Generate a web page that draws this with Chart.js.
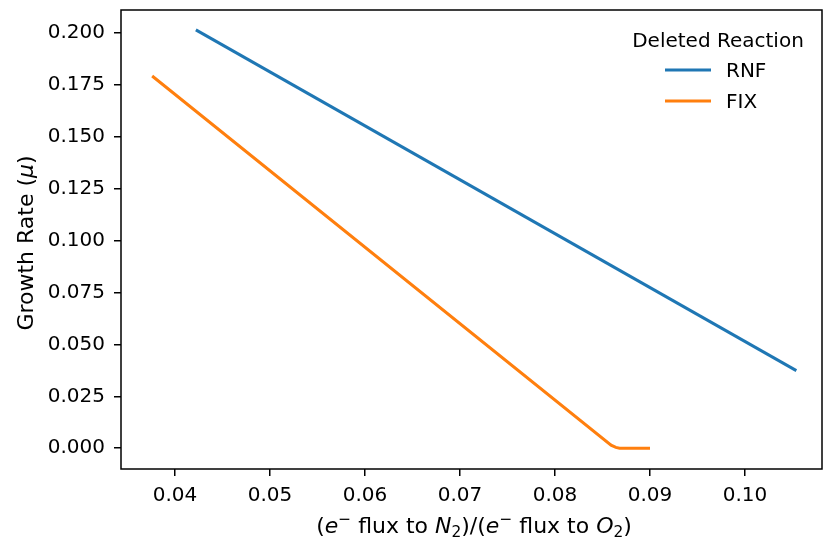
<!DOCTYPE html>
<html>
<head>
<meta charset="utf-8">
<script src="https://cdn.jsdelivr.net/npm/chart.js@4.4.0/dist/chart.umd.min.js"></script>
<style>
  body { margin: 0; background: #fff; }
  #chart { display: block; }
</style>
</head>
<body>
<canvas id="chart" width="824" height="538"></canvas>
<script>
// values
const xTicks = [0.04, 0.05, 0.06, 0.07, 0.08, 0.09, 0.10];
const yTicks = [0, 0.025, 0.05, 0.075, 0.1, 0.125, 0.15, 0.175, 0.2];

const rnfX = [0.0422, 0.1054];
const rnfY = [0.2015, 0.0374];

const fixX = [0.0376, 0.0859, 0.0864, 0.0868, 0.0900];
const fixY = [0.1793, 0.0015, 0.0004, 0.0000, 0.0000];

const seriesNames = ['RNF', 'FIX'];
const legendTitle = 'Deleted Reaction';

const FONT = '"DejaVu Sans"';
const BLUE = '#1f77b4';
const ORANGE = '#ff7f0e';

function toPoints(xs, ys) {
    return xs.map((x, i) => ({ x: x, y: ys[i] }));
}

// draws a label made of pieces (italic / sub / sup) centred on cx
function drawRich(ctx, parts, cx, baseline, size) {
    const fontFor = p => {
        const s = (p.sub || p.sup) ? size * 0.7 : size;
        return (p.italic ? 'italic ' : '') + s + 'px ' + FONT;
    };
    let total = 0;
    parts.forEach(p => { ctx.font = fontFor(p); total += ctx.measureText(p.t).width; });
    let x = cx - total / 2;
    ctx.textAlign = 'left';
    ctx.textBaseline = 'alphabetic';
    parts.forEach(p => {
        ctx.font = fontFor(p);
        let y = baseline;
        if (p.sup) y -= size * 0.42;
        if (p.sub) y += size * 0.2;
        ctx.fillText(p.t, x, y);
        x += ctx.measureText(p.t).width;
    });
}

const xLabel = [
    { t: '(' }, { t: 'e', italic: true }, { t: '\u2212', sup: true }, { t: ' flux to ' },
    { t: 'N', italic: true }, { t: '2', sub: true }, { t: ')/(' },
    { t: 'e', italic: true }, { t: '\u2212', sup: true }, { t: ' flux to ' },
    { t: 'O', italic: true }, { t: '2', sub: true }, { t: ')' }
];
const yLabel = [
    { t: 'Growth Rate (' }, { t: '\u03bc', italic: true }, { t: ')' }
];

const decorations = {
    id: 'decorations',
    afterDraw(chart) {
        const ctx = chart.ctx;
        const a = chart.chartArea;
        ctx.save();
        // spines
        ctx.strokeStyle = '#000';
        ctx.lineWidth = 1.5;
        ctx.strokeRect(a.left, a.top, a.right - a.left, a.bottom - a.top);

        ctx.fillStyle = '#000';
        drawRich(ctx, xLabel, 474, 533, 22);

        ctx.save();
        ctx.translate(33, 243);
        ctx.rotate(-Math.PI / 2);
        drawRich(ctx, yLabel, 0, 0, 22);
        ctx.restore();

        // legend
        ctx.font = '20px ' + FONT;
        ctx.textAlign = 'center';
        ctx.textBaseline = 'alphabetic';
        ctx.fillStyle = '#000';
        ctx.fillText(legendTitle, 718, 47);
        const colors = [BLUE, ORANGE];
        seriesNames.forEach((name, i) => {
            const y = 70 + i * 31;
            ctx.strokeStyle = colors[i];
            ctx.lineWidth = 3;
            ctx.beginPath();
            ctx.moveTo(665, y);
            ctx.lineTo(711, y);
            ctx.stroke();
            ctx.textAlign = 'left';
            ctx.fillText(name, 726, y + 7);
        });
        ctx.restore();
    }
};

new Chart(document.getElementById('chart'), {
    type: 'line',
    data: {
        datasets: [
            { label: seriesNames[0], data: toPoints(rnfX, rnfY), borderColor: BLUE, borderWidth: 3, pointRadius: 0, fill: false },
            { label: seriesNames[1], data: toPoints(fixX, fixY), borderColor: ORANGE, borderWidth: 3, pointRadius: 0, fill: false }
        ]
    },
    options: {
        responsive: false,
        animation: false,
        layout: { padding: { top: 10, right: 2, left: 0, bottom: 0 } },
        plugins: { legend: { display: false }, tooltip: { enabled: false } },
        scales: {
            x: {
                type: 'linear',
                min: 0.03432,
                max: 0.1081,
                afterBuildTicks: axis => { axis.ticks = xTicks.map(v => ({ value: v })); },
                afterFit: axis => { axis.height = 69; axis.paddingLeft = 0; axis.paddingRight = 0; },
                ticks: {
                    font: { family: FONT, size: 20 },
                    color: '#000',
                    padding: 8,
                    maxRotation: 0,
                    callback: v => v.toFixed(2)
                },
                grid: { drawOnChartArea: false, tickLength: 7, color: '#000', lineWidth: 1.5 },
                border: { display: false }
            },
            y: {
                type: 'linear',
                min: -0.0100,
                max: 0.2111,
                afterBuildTicks: axis => { axis.ticks = yTicks.map(v => ({ value: v })); },
                afterFit: axis => { axis.width = 121; axis.paddingTop = 0; axis.paddingBottom = 0; },
                ticks: {
                    font: { family: FONT, size: 20 },
                    color: '#000',
                    padding: 9,
                    callback: v => v.toFixed(3)
                },
                grid: { drawOnChartArea: false, tickLength: 7, color: '#000', lineWidth: 1.5 },
                border: { display: false }
            }
        }
    },
    plugins: [decorations]
});
</script>
</body>
</html>
